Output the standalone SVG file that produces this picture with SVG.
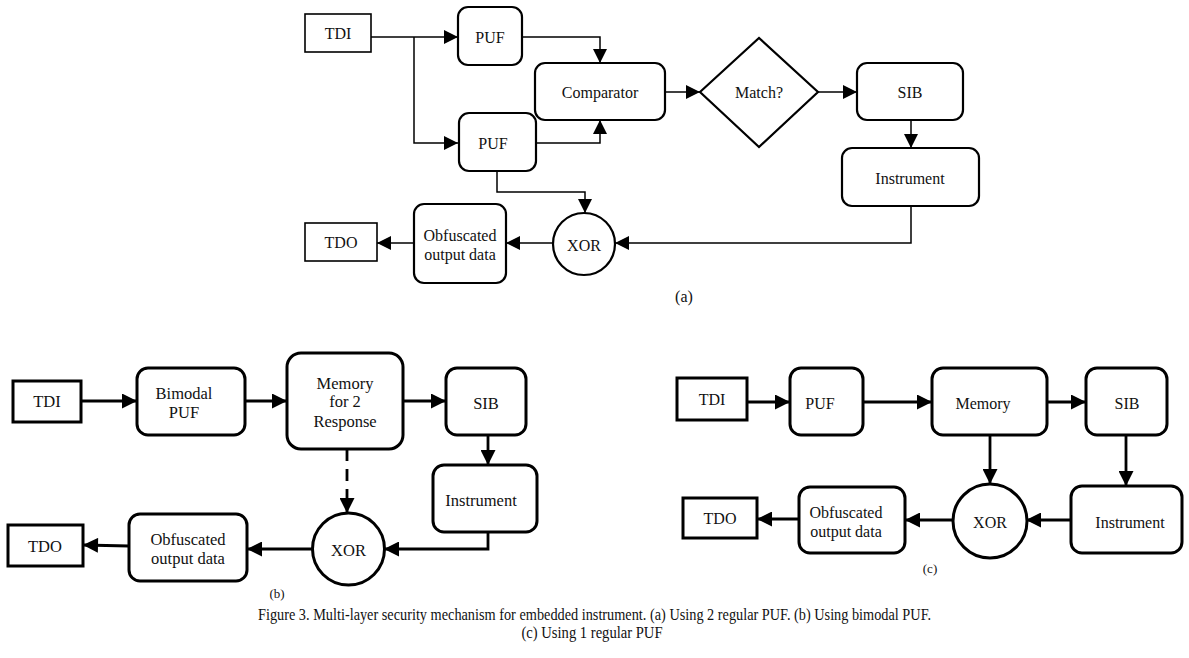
<svg xmlns="http://www.w3.org/2000/svg" width="1189" height="658" viewBox="0 0 1189 658" font-family="'Liberation Serif', 'Times New Roman', serif">
<style>
text{font-family:'Liberation Serif','Times New Roman',serif;fill:#111;text-anchor:middle;dominant-baseline:central}
.la{font-size:16px}
.lb{font-size:16.5px}
.cap{font-size:16px}
.ra{fill:#fff;stroke:#000;stroke-width:2.2}
.pa{fill:#fff;stroke:#000;stroke-width:1.6}
.rb{fill:#fff;stroke:#000;stroke-width:3}
.ca{fill:none;stroke:#000;stroke-width:1.5}
.cb{fill:none;stroke:#000;stroke-width:2.8}
</style>
<defs>
<marker id="ah" viewBox="0 0 10 10" refX="10" refY="5" markerWidth="15" markerHeight="14" markerUnits="userSpaceOnUse" orient="auto"><path d="M0,0 L10,5 L0,10 z" fill="#000"/></marker>
<marker id="bh" viewBox="0 0 10 10" refX="10" refY="5" markerWidth="16" markerHeight="15" markerUnits="userSpaceOnUse" orient="auto"><path d="M0,0 L10,5 L0,10 z" fill="#000"/></marker>
</defs>
<rect width="1189" height="658" fill="#fff"/>

<g id="connectors">
<g class="ca" marker-end="url(#ah)">
<path d="M371,37 H458"/>
<path d="M414,37 V143 H458"/>
<path d="M522,37 H600 V63"/>
<path d="M537,143 H600 V120"/>
<path d="M665,92 H700"/>
<path d="M818,92 H857"/>
<path d="M911,120 V148"/>
<path d="M911,206 V243 H615"/>
<path d="M497,171 V192 H585 V213"/>
<path d="M553,243 H506"/>
<path d="M414,243 H377"/>
</g>
<g class="cb" marker-end="url(#bh)">
<path d="M81,401 H137"/>
<path d="M245,401 H287"/>
<path d="M403,401 H446"/>
<path d="M488,435 V465"/>
<path d="M488,532 V549 H384"/>
<path d="M347,449 V513" stroke-dasharray="12,8"/>
<path d="M313,549 H247"/>
<path d="M129,546 L83,545"/>
<path d="M747,402 H790"/>
<path d="M863,402 H932"/>
<path d="M1047,402 H1086"/>
<path d="M1126,435 V486"/>
<path d="M1071,520 H1026"/>
<path d="M990,435 V484"/>
<path d="M954,520 H905"/>
<path d="M799,519 H757"/>
</g>
</g>

<!-- (a) -->
<g id="a_tdi"><rect class="pa" x="305" y="14" width="66" height="38"/><text class="la" x="338" y="33">TDI</text></g>
<g id="a_puf1"><rect class="ra" x="458" y="7" width="64" height="58" rx="10"/><text class="la" x="490" y="37">PUF</text></g>
<g id="a_puf2"><rect class="ra" x="459" y="113" width="77" height="58" rx="10"/><text class="la" x="493" y="143">PUF</text></g>
<g id="a_comp"><rect class="ra" x="535" y="63" width="130" height="57" rx="10"/><text class="la" x="600" y="92">Comparator</text></g>
<g id="a_match"><path class="ra" d="M700,92 L759,38 L818,92 L759,147 Z"/><text class="la" x="759" y="92">Match?</text></g>
<g id="a_sib"><rect class="ra" x="857" y="63" width="106" height="57" rx="10"/><text class="la" x="910" y="92">SIB</text></g>
<g id="a_instr"><rect class="ra" x="842" y="148" width="137" height="58" rx="10"/><text class="la" x="910" y="178">Instrument</text></g>
<g id="a_xor"><circle class="ra" cx="584" cy="244" r="31"/><text class="la" x="584" y="245">XOR</text></g>
<g id="a_obf"><rect class="ra" x="414" y="204" width="92" height="79" rx="10"/><text class="la" x="460" y="235">Obfuscated</text><text class="la" x="460" y="254">output data</text></g>
<g id="a_tdo"><rect class="pa" x="305" y="223" width="72" height="38"/><text class="la" x="341" y="242">TDO</text></g>
<text class="la" x="684" y="296">(a)</text>

<!-- (b) -->
<g id="b_tdi"><rect class="rb" x="13" y="381" width="68" height="41"/><text class="lb" x="47" y="401">TDI</text></g>
<g id="b_puf"><rect class="rb" x="137" y="368" width="108" height="67" rx="11"/><text class="lb" x="184" y="393">Bimodal</text><text class="lb" x="184" y="412">PUF</text></g>
<g id="b_mem"><rect class="rb" x="287" y="353" width="116" height="96" rx="14"/><text class="lb" x="345" y="383">Memory</text><text class="lb" x="345" y="401">for 2</text><text class="lb" x="345" y="421">Response</text></g>
<g id="b_sib"><rect class="rb" x="446" y="368" width="80" height="67" rx="11"/><text class="lb" x="486" y="403">SIB</text></g>
<g id="b_instr"><rect class="rb" x="433" y="465" width="104" height="67" rx="11"/><text class="lb" x="481" y="500">Instrument</text></g>
<g id="b_xor"><circle class="rb" cx="348.5" cy="549" r="36"/><text class="lb" x="348.5" y="550">XOR</text></g>
<g id="b_obf"><rect class="rb" x="129" y="514" width="118" height="67" rx="11"/><text class="lb" x="188" y="539">Obfuscated</text><text class="lb" x="188" y="558">output data</text></g>
<g id="b_tdo"><rect class="rb" x="8" y="525" width="75" height="41"/><text class="lb" x="45" y="546">TDO</text></g>
<text x="277" y="593" style="font-size:13px">(b)</text>

<!-- (c) -->
<g id="c_tdi"><rect class="rb" x="677" y="378" width="70" height="42"/><text class="la" x="712" y="399">TDI</text></g>
<g id="c_puf"><rect class="rb" x="790" y="368" width="73" height="67" rx="11"/><text class="la" x="820" y="403">PUF</text></g>
<g id="c_mem"><rect class="rb" x="932" y="368" width="115" height="67" rx="11"/><text class="la" x="983" y="403">Memory</text></g>
<g id="c_sib"><rect class="rb" x="1086" y="368" width="81" height="67" rx="11"/><text class="la" x="1127" y="403">SIB</text></g>
<g id="c_instr"><rect class="rb" x="1071" y="486" width="111" height="67" rx="11"/><text class="la" x="1130" y="522">Instrument</text></g>
<g id="c_xor"><circle class="rb" cx="990" cy="521" r="37"/><text class="la" x="990" y="522">XOR</text></g>
<g id="c_obf"><rect class="rb" x="799" y="487" width="106" height="66" rx="11"/><text class="la" x="846" y="512">Obfuscated</text><text class="la" x="846" y="531">output data</text></g>
<g id="c_tdo"><rect class="rb" x="683" y="498" width="74" height="40"/><text class="la" x="720" y="518">TDO</text></g>
<text x="930" y="568" style="font-size:13px">(c)</text>

<text class="cap" x="594.5" y="614" textLength="673" lengthAdjust="spacingAndGlyphs">Figure 3. Multi-layer security mechanism for embedded instrument. (a) Using 2 regular PUF. (b) Using bimodal PUF.</text>
<text class="cap" x="592" y="632" textLength="141" lengthAdjust="spacingAndGlyphs">(c) Using 1 regular PUF</text>
</svg>
